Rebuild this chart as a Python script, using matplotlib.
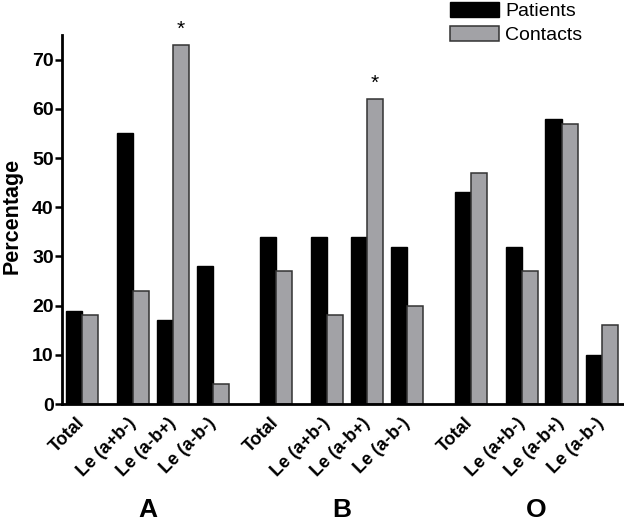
import numpy as np
import matplotlib
matplotlib.use("Agg")
import matplotlib.pyplot as plt

plt.rcParams['font.family'] = ['Liberation Sans', 'DejaVu Sans']

groups = ["A", "B", "O"]
subgroups = ["Total", "Le (a+b-)", "Le (a-b+)", "Le (a-b-)"]
patients = [19, 55, 17, 28,
            34, 34, 34, 32,
            43, 32, 58, 10]
contacts = [18, 23, 73, 4,
            27, 18, 62, 20,
            47, 27, 57, 16]
starred = [2, 6]  # contacts bars marked with *

# layout: positions of the bar pairs
within = np.array([0, 1.28, 2.27, 3.27])
group_start = [0, 4.84, 9.7]
centers = np.concatenate([g + within for g in group_start])
w = 0.4

fig = plt.figure(figsize=(6.24, 5.23), dpi=100)
ax = fig.add_axes([0.0994, 0.2275, 0.9006, 0.7055])

ax.bar(centers - w / 2, patients, w, color='black', edgecolor='black',
       linewidth=1, label='Patients')
ax.bar(centers + w / 2, contacts, w, color='#a2a2a6', edgecolor='#333333',
       linewidth=1.1, label='Contacts')

for i in starred:
    ax.text(centers[i] + w / 2, contacts[i] + 3.2, '*', ha='center',
            va='center', fontsize=15)

ax.set_xlim(-0.5, centers[-1] + 0.56)
ax.set_ylim(0, 75)
ax.set_yticks(range(0, 80, 10))
for lab in ax.get_yticklabels():
    lab.set_fontweight('bold')
    lab.set_fontsize(14)
ax.set_ylabel('Percentage', fontsize=15.5, fontweight='bold', va='center')
ax.yaxis.set_label_coords(-0.088, 0.51)

ax.set_xticks(centers)
ax.set_xticklabels(subgroups * len(groups), rotation=45, ha='right',
                   va='center', rotation_mode='anchor', fontsize=13,
                   fontweight='bold')
ax.tick_params(axis='x', length=0, pad=12)
ax.tick_params(axis='y', width=1.8, length=5, direction='out', pad=1)

for s in ['top', 'right']:
    ax.spines[s].set_visible(False)
for s in ['left', 'bottom']:
    ax.spines[s].set_linewidth(2)

for g, start in zip(groups, group_start):
    mid = start + (within[0] + within[-1]) / 2
    ax.text(mid, -0.2873, g, transform=ax.get_xaxis_transform(),
            ha='center', va='center', fontsize=19, fontweight='bold')

fig.legend(loc='upper left', bbox_to_anchor=(450 / 624, 1 - 2 / 523),
           frameon=False, fontsize=14, handlelength=2.5, handleheight=0.82,
           labelspacing=0.28, handletextpad=0.35, borderpad=0,
           borderaxespad=0)

plt.savefig('out.png', dpi=100)
